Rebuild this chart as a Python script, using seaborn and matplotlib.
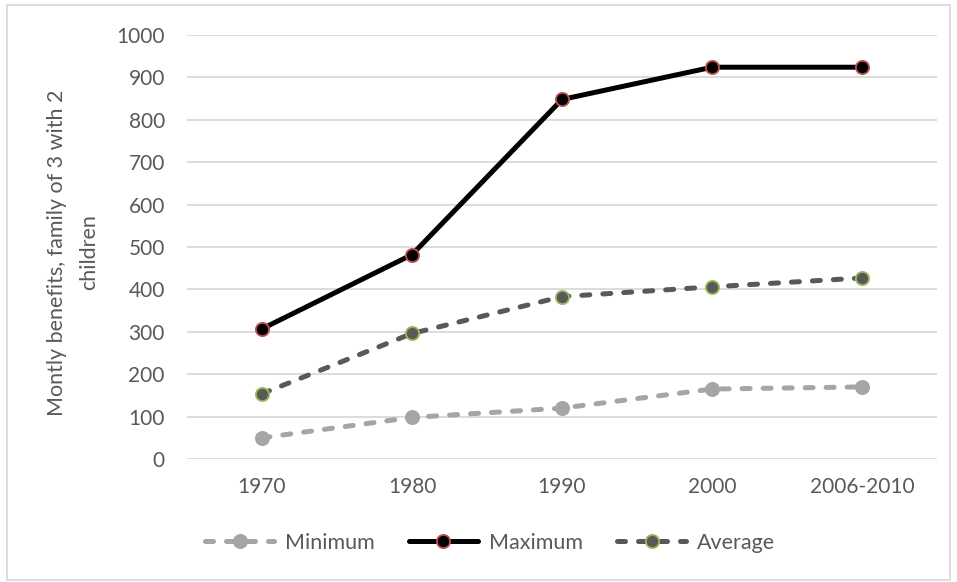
import pandas as pd
import seaborn as sns
import matplotlib.pyplot as plt
from matplotlib.patches import Rectangle

years = ['1970', '1980', '1990', '2000', '2006-2010']
minimum = [50, 98, 120, 165, 170]
maximum = [307, 482, 848, 924, 924]
average = [154, 296, 383, 406, 427]

sns.set_theme(style='white')
plt.rcParams['font.family'] = ['Lato', 'DejaVu Sans']

fig = plt.figure(figsize=(9.57, 5.82), dpi=100)
ax = fig.add_axes([187 / 957, 1 - 459 / 582, 750 / 957, 424 / 582])

idx = list(range(len(years)))
series = [
    ('Minimum', minimum, '#A5A5A5', '#A5A5A5', (1.6, 2.6)),
    ('Maximum', maximum, '#000000', '#C0504D', ''),
    ('Average', average, '#595959', '#9BBB59', (1.6, 2.6)),
]
for name, vals, col, edge, dash in series:
    df = pd.DataFrame({'x': idx, 'y': vals})
    sns.lineplot(data=df, x='x', y='y', ax=ax, color=col, linewidth=3.6,
                 marker='o', markersize=9.5, markerfacecolor=col,
                 markeredgecolor=edge, markeredgewidth=1.3,
                 dashes=dash, label=name, zorder=3)
for ln in ax.get_lines():
    ln.set_dash_capstyle('round')
    ln.set_solid_capstyle('round')

ax.set_xlim(-0.5, len(years) - 0.5)
ax.set_ylim(0, 1000)
ax.set_yticks(range(0, 1001, 100))
ax.set_xticks(idx)
ax.set_xticklabels(years)
ax.grid(axis='y', color='#D9D9D9', linewidth=1.3)
ax.set_axisbelow(True)
for s in ax.spines.values():
    s.set_visible(False)
ax.tick_params(axis='both', length=0, labelsize=15, labelcolor='#595959')
ax.tick_params(axis='y', pad=16)
ax.tick_params(axis='x', pad=13)
ax.set_xlabel('')
ax.set_ylabel('')

# axis title, two centred lines
fig.text(57 / 957, 1 - 253 / 582, 'Montly benefits, family of 3 with 2', rotation=90,
         ha='center', va='center', fontsize=15.5, color='#595959')
fig.text(89 / 957, 1 - 252 / 582, 'children', rotation=90,
         ha='center', va='center', fontsize=15.5, color='#595959')

ax.legend(loc='center', bbox_to_anchor=(490 / 957, 1 - 543 / 582), bbox_transform=fig.transFigure,
          ncol=3, frameon=False, fontsize=15.5, handlelength=3.2, columnspacing=1.6,
          handletextpad=0.5, labelcolor='#595959')

fig.patches.append(Rectangle((7 / 957, 2 / 582), 943 / 957, 575 / 582,
                             transform=fig.transFigure, fill=False,
                             edgecolor='#D9D9D9', linewidth=1.3))

fig.savefig('out.png', dpi=100)
